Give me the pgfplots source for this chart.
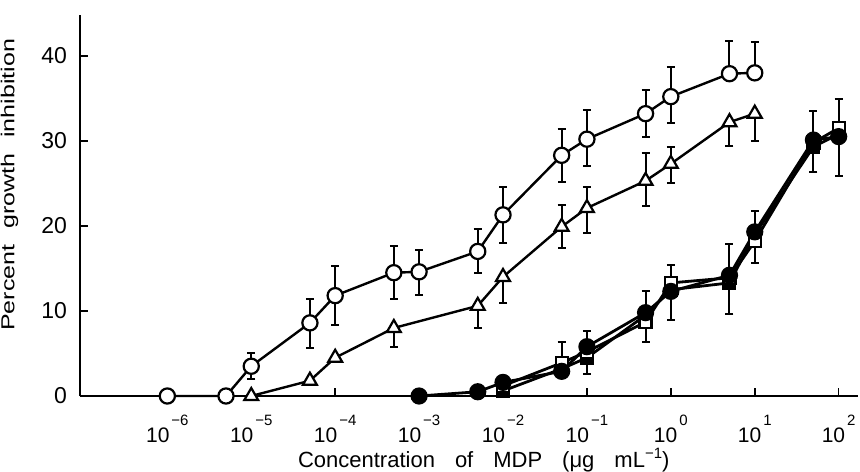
\documentclass[border=0pt]{standalone}
\usepackage{fontspec}
\setmainfont{Liberation Sans}
\usepackage{pgfplots}
\pgfplotsset{compat=1.18}
\newcommand\ex[1]{10\hspace{1pt}\raisebox{8.5pt}{\fontsize{7.5}{7.5}\selectfont #1}}
\newcommand\gap{\hspace{10pt}}

\begin{document}
\begin{tikzpicture}
\begin{axis}[
  width=389pt, height=190.5pt, scale only axis,
  xmode=log, xmin=9.1e-8, xmax=170,
  ymin=0, ymax=44.8,
  axis lines=left,
  axis line style={-, line width=1pt},
  xtick={1e-6,1e-5,1e-4,1e-3,1e-2,1e-1,1,10,100},
  xticklabels={\ex{−6},\ex{−5},\ex{−4},\ex{−3},\ex{−2},\ex{−1},\ex{0},\ex{1},\ex{2}},
  xminorticks=false,
  ytick={0,10,20,30,40},
  tick align=inside,
  major tick length=4pt,
  tick style={black, line width=0.8pt},
  /pgf/number format/assume math mode=true,
  xticklabel style={font=\fontsize{10.5}{12}\selectfont, anchor=north, yshift=-6pt},
  yticklabel style={font=\fontsize{11.5}{13}\selectfont, xshift=-3pt},
  xlabel={Concentration\gap of\gap MDP\gap (μg\gap mL\raisebox{4.5pt}{\fontsize{7.5}{7.5}\selectfont −1})},
  ylabel={\scalebox{1}[0.75]{Percent\hspace{8pt}growth\hspace{8pt}inhibition}},
  xlabel style={font=\fontsize{11}{13}\selectfont, inner sep=0pt, at={(axis description cs:0.519,-0.188)}, anchor=base},
  ylabel style={font=\fontsize{12.5}{14}\selectfont, inner sep=0pt, at={(axis description cs:-0.0905,0.554)}, anchor=center},
  clip=false,
  every axis plot/.append style={black},
]

% error bars (drawn first, markers go on top)
\pgfplotsset{ebar/.style={draw=none, mark=none, forget plot,
  error bars/.cd, y dir=both, y explicit,
  error bar style={draw=black, line width=1pt},
  error mark options={rotate=90, mark size=2pt, draw=black, line width=1pt}}}

\addplot[ebar] table[x=x, y=y, y error plus=ep, y error minus=em] {
x y ep em
1e-5 3.5 1.5 1.5
5e-5 8.6 2.8 3.0
1e-4 11.8 3.5 3.5
5e-4 14.5 3.1 3.1
1e-3 14.6 2.6 2.7
5e-3 17.0 2.6 2.5
1e-2 21.3 3.3 3.3
5e-2 28.3 3.1 3.1
1e-1 30.2 3.4 3.2
5e-1 33.2 2.8 2.7
1 35.2 3.5 3.1
5 37.9 3.9 0
10 38.0 3.6 0
};
\addplot[ebar] table[x=x, y=y, y error plus=ep, y error minus=em] {
x y ep em
5e-4 8.0 0 2.2
5e-3 10.6 0 2.6
1e-2 14.0 0 3.1
5e-2 19.9 2.6 2.5
1e-1 22.1 2.5 2.9
5e-1 25.3 3.3 3.0
1 27.3 2.0 2.2
5 32.2 0 2.8
10 33.2 0 3.2
};
\addplot[ebar] table[x=x, y=y, y error plus=ep, y error minus=em] {
x y ep em
5e-2 2.9 3.5 0
1e-1 5.8 1.9 3.2
5e-1 9.8 2.5 3.4
1 12.3 3.1 3.4
5 14.2 3.7 4.6
10 19.3 2.4 3.7
50 30.1 3.4 3.8
100 30.5 4.4 4.6
};

% open circles
\addplot[line width=1.2pt, mark=*, mark size=3.8pt, mark options={fill=white, line width=1.1pt}]
  coordinates {(1e-6,0) (5e-6,0) (1e-5,3.5) (5e-5,8.6) (1e-4,11.8) (5e-4,14.5) (1e-3,14.6)
  (5e-3,17.0) (1e-2,21.3) (5e-2,28.3) (1e-1,30.2) (5e-1,33.2) (1,35.2) (5,37.9) (10,38.0)};
% open triangles
\addplot[line width=1.2pt, mark=triangle*, mark size=4pt, mark options={fill=white, line width=1.1pt}]
  coordinates {(1e-5,0) (5e-5,1.8) (1e-4,4.5) (5e-4,8.0) (5e-3,10.6) (1e-2,14.0)
  (5e-2,19.9) (1e-1,22.1) (5e-1,25.3) (1,27.3) (5,32.2) (10,33.2)};
% filled squares
\addplot[line width=1.4pt, mark=square*, mark size=3pt, mark options={fill=black, line width=1pt}]
  coordinates {(1e-2,0.6) (5e-2,3.2) (1e-1,4.5) (5e-1,9.5) (1,12.5) (5,13.3) (10,19.0) (50,29.3) (100,30.8)};
% open squares
\addplot[line width=1.4pt, mark=square*, mark size=3pt, mark options={fill=white, line width=1.1pt}]
  coordinates {(1e-2,1.2) (5e-2,3.9) (1e-1,5.2) (5e-1,8.7) (1,13.3) (5,13.9) (10,18.2) (50,29.8) (100,31.5)};
% filled circles
\addplot[line width=1.4pt, mark=*, mark size=3.8pt, mark options={fill=black, line width=1pt}]
  coordinates {(1e-3,0) (5e-3,0.5) (1e-2,1.6) (5e-2,2.9) (1e-1,5.8) (5e-1,9.8) (1,12.3) (5,14.2) (10,19.3) (50,30.1) (100,30.5)};
\end{axis}
\pgfresetboundingbox
\useasboundingbox (-40pt,-37.5pt) rectangle (390pt,198pt);
\end{tikzpicture}
\end{document}
